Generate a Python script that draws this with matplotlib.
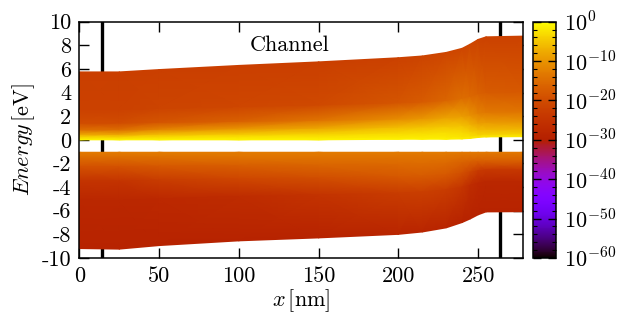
"""
Energy-resolved spectral density along the transistor channel.
Upper and lower bands are drawn as gouraud-shaded meshes on a log colour scale.
"""

import matplotlib
matplotlib.use('Agg')
import matplotlib.pyplot as plt
import numpy as np
from matplotlib.colors import LogNorm
from matplotlib.ticker import FixedLocator, NullFormatter

# position along the device [nm]
x_nodes = np.array([0, 25, 50, 100, 150, 200, 215, 230, 240, 245, 250, 255, 278])

# band edges [eV]
upper_top = np.array([5.75, 5.75, 5.95, 6.3, 6.6, 6.95, 7.1, 7.4, 7.75, 8.1, 8.5, 8.72, 8.78])
upper_bottom = np.array([0.0, 0.0, 0.0, 0.0, 0.0, 0.05, 0.05, 0.05, 0.08, 0.12, 0.2, 0.25, 0.27])
lower_top = np.full(len(x_nodes), -1.05)
lower_bottom = np.array([-9.2, -9.25, -8.95, -8.55, -8.3, -8.0, -7.8, -7.45, -7.0, -6.7,
                         -6.35, -6.1, -6.08])

# relative depth into each band (0 = edge next to the gap)
upper_depth = np.array([0, 0.03, 0.08, 0.15, 0.25, 0.45, 1.0])
lower_depth = np.array([0, 0.05, 0.15, 0.3, 0.5, 1.0])

# log10 of the spectral density, one row per x node
upper_log = np.array([
    [-1, -3, -8, -15, -20, -22, -22.5],
    [-1, -3, -8, -15, -20, -22, -22.5],
    [-1, -2.5, -6, -12, -18.5, -21.5, -22.5],
    [-1, -2, -5, -10, -16.5, -21, -22.5],
    [-1, -2, -4, -8, -14, -20.5, -22.5],
    [-1, -2, -3.5, -6, -11, -18.5, -22],
    [-1, -2, -3.2, -5.5, -10, -17.5, -21.5],
    [-1, -2, -3, -5, -8.5, -16, -21],
    [-1.5, -2.5, -3.5, -5.5, -9, -15, -21],
    [-1.5, -3, -4.5, -7, -10.5, -15.5, -21],
    [-2, -4, -6, -9, -12.5, -16.5, -21.5],
    [-2, -4, -6.5, -9.5, -13.5, -17.5, -22],
    [-2, -4, -7, -10, -14, -18, -22],
])
lower_log = np.array([
    [-13, -15, -19, -25, -28, -29],
    [-13, -15, -19, -25, -28, -29],
    [-13, -14.5, -18, -23, -27.5, -29],
    [-13, -14, -17, -21, -26.5, -29],
    [-13, -14, -16, -19.5, -25, -29],
    [-13, -14, -15.5, -18, -23, -28.5],
    [-13, -14, -15.2, -17.5, -22.5, -28.5],
    [-13, -14, -15.5, -18, -23, -28.5],
    [-13.5, -14.5, -16.5, -19.5, -24.5, -29],
    [-13.5, -14.5, -17, -21.5, -26.5, -29],
    [-13.5, -14.5, -17.5, -23.5, -27.5, -29],
    [-13.5, -14.5, -17, -24, -28, -29],
    [-13.5, -14.5, -17, -24, -28, -29],
])

# contact boundaries [nm]
contacts = [14, 264]

x_ticks = [0, 50, 100, 150, 200, 250]
y_ticks = list(range(-10, 11, 2))
cb_ticks = [1e-60, 1e-50, 1e-40, 1e-30, 1e-20, 1e-10, 1e0]
cb_labels = [r'$10^{-60}$', r'$10^{-50}$', r'$10^{-40}$', r'$10^{-30}$',
             r'$10^{-20}$', r'$10^{-10}$', r'$10^{0}$']


def band_mesh(edge, far_edge, depth):
    """Builds the quad mesh of a band from its two edges."""
    X = np.repeat(x_nodes[:, None], len(depth), axis=1)
    Y = edge[:, None] + depth[None, :] * (far_edge - edge)[:, None]
    return X, Y


plt.rcParams['font.family'] = 'serif'
plt.rcParams['font.serif'] = ['cmr10', 'DejaVu Serif']
plt.rcParams['mathtext.fontset'] = 'cm'
plt.rcParams['axes.unicode_minus'] = False
plt.rcParams['font.size'] = 16

fig = plt.figure(figsize=(6.37, 3.25), dpi=100)
ax = fig.add_axes([0.1248, 0.2062, 0.6958, 0.727])
cax = fig.add_axes([0.8367, 0.2062, 0.0361, 0.727])

norm = LogNorm(vmin=1e-60, vmax=1e0)

for xc in contacts:
    ax.axvline(xc, color='black', linewidth=2.4, zorder=1)

Xu, Yu = band_mesh(upper_bottom, upper_top, upper_depth)
mesh = ax.pcolormesh(Xu, Yu, 10.0 ** upper_log, shading='gouraud',
                     cmap='gnuplot', norm=norm, zorder=2)
Xl, Yl = band_mesh(lower_top, lower_bottom, lower_depth)
ax.pcolormesh(Xl, Yl, 10.0 ** lower_log, shading='gouraud',
              cmap='gnuplot', norm=norm, zorder=2)

ax.text(132, 8.0, 'Channel', ha='center', va='center', fontsize=16)

ax.set_xlim(0, 278)
ax.set_ylim(-10, 10)
ax.set_xticks(x_ticks)
ax.set_xticklabels([str(t) for t in x_ticks])
ax.set_yticks(y_ticks)
ax.set_yticklabels([str(t) for t in y_ticks])
ax.tick_params(direction='in', length=7, width=1.0, top=True, right=True, pad=6)
for spine in ax.spines.values():
    spine.set_linewidth(1.1)
ax.set_xlabel(r'$x\,$[nm]', labelpad=1)
ax.set_ylabel(r'$Energy\,$[eV]', labelpad=3)

cbar = fig.colorbar(mesh, cax=cax)
cbar.set_ticks(cb_ticks)
cbar.set_ticklabels(cb_labels)
cax.yaxis.set_minor_locator(FixedLocator([10.0 ** k for k in range(-60, 1, 2)]))
cax.yaxis.set_minor_formatter(NullFormatter())
cax.tick_params(which='major', direction='in', length=6, width=1.0,
                left=True, right=True, pad=6)
cax.tick_params(which='minor', direction='in', length=3, width=0.8,
                left=True, right=True)
cbar.outline.set_linewidth(1.1)

fig.savefig('out.png', dpi=100)
